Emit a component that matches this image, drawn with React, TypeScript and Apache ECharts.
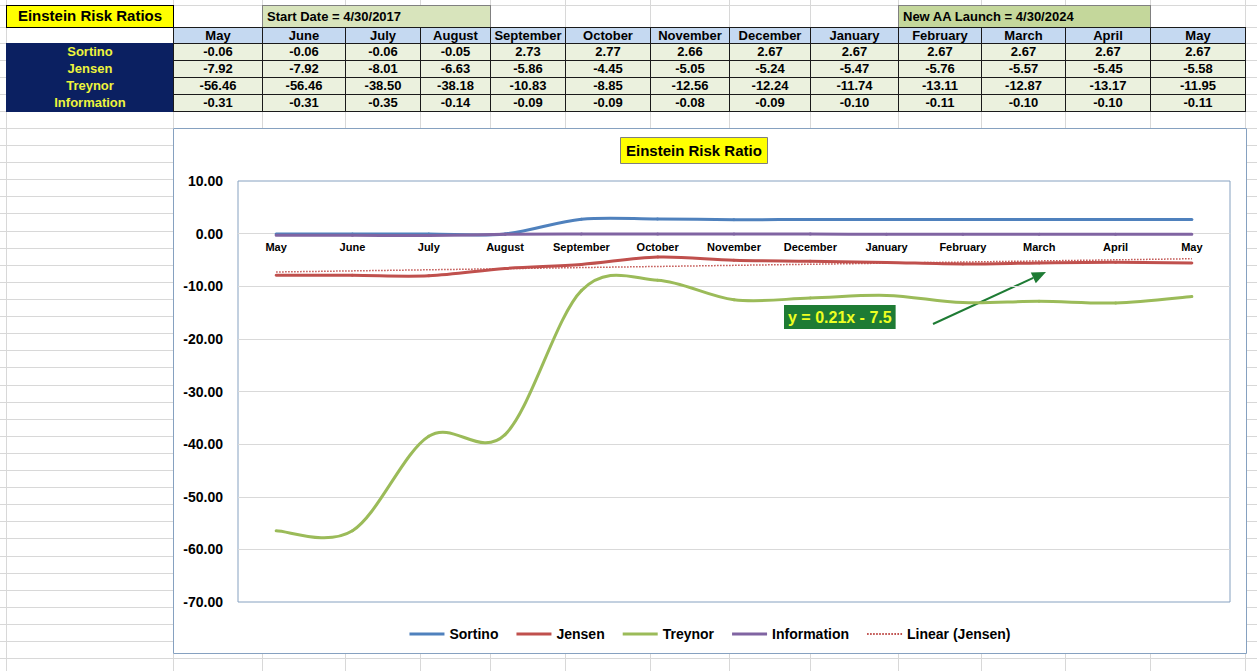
import * as echarts from "echarts";
import { useEffect, useRef } from "react";

// values copied from the sheet (one column per month)
const months = [
  "May", "June", "July", "August", "September", "October", "November",
  "December", "January", "February", "March", "April", "May",
];
const sortino = [-0.06, -0.06, -0.06, -0.05, 2.73, 2.77, 2.66, 2.67, 2.67, 2.67, 2.67, 2.67, 2.67];
const jensen = [-7.92, -7.92, -8.01, -6.63, -5.86, -4.45, -5.05, -5.24, -5.47, -5.76, -5.57, -5.45, -5.58];
const treynor = [-56.46, -56.46, -38.5, -38.18, -10.83, -8.85, -12.56, -12.24, -11.74, -13.11, -12.87, -13.17, -11.95];
const information = [-0.31, -0.31, -0.35, -0.14, -0.09, -0.09, -0.08, -0.09, -0.1, -0.11, -0.1, -0.1, -0.11];
// linear trend of Jensen, read at the first and last month
const jensenTrend = [-7.29, null, null, null, null, null, null, null, null, null, null, null, -4.77];

const ratioNames = ["Sortino", "Jensen", "Treynor", "Information"];
const ratioRows = [sortino, jensen, treynor, information];
const ratioColors = ["#4f81bd", "#c0504d", "#9bbb59", "#8064a2"];
const trendName = "Linear (Jensen)";
const trendColor = "#c0504d";
const trendLabel = "y = 0.21x - 7.5";

const sheetTitle = "Einstein Risk Ratios";
const chartTitle = "Einstein Risk Ratio";
const startNote = "Start Date = 4/30/2017";
const launchNote = "New AA Launch = 4/30/2024";

// spreadsheet geometry
const colEdges = [6, 173, 262, 345, 420, 490, 565, 650, 729, 810, 898, 981, 1065, 1150, 1245];
const rowEdges = [5, 27, 43, 60, 77, 94, 111];
const CHART_X = 173;
const CHART_Y = 128;
const CHART_W = 1074;
const CHART_H = 526;

const sans = "'Liberation Sans', Arial, sans-serif";
const cellFont = `bold 13px ${sans}`;

function box(left: number, top: number, right: number, bottom: number) {
  return {
    position: "absolute" as const,
    left,
    top,
    width: right - left + 1,
    height: bottom - top + 1,
    boxSizing: "border-box" as const,
    whiteSpace: "nowrap" as const,
  };
}

function Sheet() {
  const hLines: number[] = [...rowEdges];
  for (let y = 128; y < 671; y += 17.1) hLines.push(Math.round(y));

  const cells: JSX.Element[] = [];
  months.forEach((m, i) => {
    cells.push(
      <div
        key={"h" + i}
        style={{
          ...box(colEdges[i + 1], rowEdges[1], colEdges[i + 2], rowEdges[2]),
          background: "#c5d9f1",
          border: "1px solid #1a1a1a",
          font: cellFont,
          textAlign: "center",
          lineHeight: "15px",
        }}
      >
        {m}
      </div>,
    );
  });
  ratioRows.forEach((row, r) => {
    const top = rowEdges[r + 2];
    const bottom = rowEdges[r + 3];
    cells.push(
      <div
        key={"l" + r}
        style={{
          ...box(colEdges[0], top, colEdges[1], bottom),
          background: "#0b2061",
          color: "#eef43c",
          font: cellFont,
          textAlign: "center",
          lineHeight: "17px",
        }}
      >
        {ratioNames[r]}
      </div>,
    );
    row.forEach((v, i) => {
      cells.push(
        <div
          key={"c" + r + "-" + i}
          style={{
            ...box(colEdges[i + 1], top, colEdges[i + 2], bottom),
            background: "#ebf1de",
            border: "1px solid #1a1a1a",
            font: cellFont,
            textAlign: "center",
            lineHeight: "16px",
          }}
        >
          {v.toFixed(2)}
        </div>,
      );
    });
  });

  return (
    <>
      {colEdges.map((x) => (
        <div
          key={"vx" + x}
          style={{ position: "absolute", left: x, top: 0, width: 1, height: 671, background: "#d8d8d8" }}
        />
      ))}
      {hLines.map((y) => (
        <div
          key={"hy" + y}
          style={{ position: "absolute", left: 0, top: y, width: 1257, height: 1, background: "#d8d8d8" }}
        />
      ))}
      <div
        style={{
          ...box(colEdges[0], rowEdges[0], colEdges[1], rowEdges[1]),
          background: "#ffff00",
          border: "1px solid #000",
          font: `bold 15px ${sans}`,
          textAlign: "center",
          lineHeight: "20px",
        }}
      >
        {sheetTitle}
      </div>
      <div
        style={{
          ...box(colEdges[2], rowEdges[0], colEdges[5], rowEdges[1]),
          background: "#d8e4bc",
          border: "1px solid #808080",
          font: cellFont,
          paddingLeft: 4,
          lineHeight: "21px",
        }}
      >
        {startNote}
      </div>
      <div
        style={{
          ...box(colEdges[10], rowEdges[0], colEdges[13], rowEdges[1]),
          background: "#c4d79b",
          border: "1px solid #808080",
          font: cellFont,
          paddingLeft: 4,
          lineHeight: "21px",
        }}
      >
        {launchNote}
      </div>
      {cells}
    </>
  );
}

// Excel-like smoothed line: a cubic bezier per segment through the data points
function splineSeries(name: string, values: number[], color: string): echarts.CustomSeriesOption {
  const n = values.length;
  return {
    name,
    type: "custom",
    data: values.map((v, i) => [i, v]),
    encode: { x: 0, y: 1 },
    itemStyle: { color },
    renderItem: (params: any, api: any) => {
      const i = params.dataIndex;
      if (i >= n - 1) return null;
      const p = (k: number) => {
        const j = Math.max(0, Math.min(n - 1, k));
        return api.coord([j, values[j]]);
      };
      const p0 = p(i - 1);
      const p1 = p(i);
      const p2 = p(i + 1);
      const p3 = p(i + 2);
      return {
        type: "bezierCurve",
        shape: {
          x1: p1[0],
          y1: p1[1],
          x2: p2[0],
          y2: p2[1],
          cpx1: p1[0] + (p2[0] - p0[0]) / 6,
          cpy1: p1[1] + (p2[1] - p0[1]) / 6,
          cpx2: p2[0] - (p3[0] - p1[0]) / 6,
          cpy2: p2[1] - (p3[1] - p1[1]) / 6,
        },
        style: { stroke: color, lineWidth: 3, fill: "none", lineCap: "round" },
      };
    },
  };
}

function dottedIcon() {
  let d = "path://";
  for (let k = 0; k < 12; k++) d += `M${k * 3},0h1.6v2h-1.6z`;
  return d;
}

function RiskChart() {
  const chartRef = useRef<HTMLDivElement | null>(null);

  useEffect(() => {
    if (!chartRef.current) return;
    const chart = echarts.init(chartRef.current, undefined, { renderer: "svg" });

    // annotation arrow pointing at the trend line
    const from = [760, 196];
    const tip = [873, 144];
    const dx = tip[0] - from[0];
    const dy = tip[1] - from[1];
    const len = Math.hypot(dx, dy);
    const ux = dx / len;
    const uy = dy / len;
    const headLen = 14;
    const headHalf = 6;
    const bx = tip[0] - ux * headLen;
    const by = tip[1] - uy * headLen;

    const series: echarts.SeriesOption[] = ratioNames.map((name, i) =>
      splineSeries(name, ratioRows[i], ratioColors[i]),
    );
    series.push({
      name: trendName,
      type: "line",
      data: jensenTrend,
      connectNulls: true,
      symbol: "none",
      showSymbol: false,
      lineStyle: { color: trendColor, width: 1.5, type: "dotted" },
      itemStyle: { color: trendColor },
    });

    const option: echarts.EChartsOption = {
      animation: false,
      textStyle: { fontFamily: sans },
      title: {
        text: chartTitle,
        left: 447,
        top: 9,
        padding: [5, 6, 5, 6],
        backgroundColor: "#ffff00",
        borderColor: "#7f7f7f",
        borderWidth: 1,
        textStyle: { fontSize: 15, fontWeight: "bold", color: "#000", lineHeight: 17 },
      },
      legend: {
        top: 494,
        left: "center",
        itemWidth: 35,
        itemHeight: 3,
        itemGap: 18,
        textStyle: { fontSize: 14, fontWeight: "bold", color: "#000" },
        data: [
          ...ratioNames.map((name) => ({ name, icon: "rect" })),
          { name: trendName, icon: dottedIcon() },
        ],
      },
      grid: {
        left: 65,
        right: 17,
        top: 53,
        bottom: 52,
        show: true,
        borderColor: "#86a1c0",
        borderWidth: 1,
      },
      xAxis: {
        type: "category",
        data: months,
        boundaryGap: true,
        offset: 0,
        axisLine: { onZero: false, lineStyle: { color: "#d9d9d9" } },
        axisTick: { show: false },
        axisLabel: { interval: 0, fontSize: 11, fontWeight: "bold", color: "#000", margin: 8 },
      },
      yAxis: {
        type: "value",
        min: -70,
        max: 10,
        interval: 10,
        axisLine: { show: false },
        axisTick: { show: false },
        axisLabel: {
          formatter: (v: number) => v.toFixed(2),
          fontSize: 14,
          fontWeight: "bold",
          color: "#000",
          margin: 15,
        },
        splitLine: {
          lineStyle: { color: "#d9d9d9" },
          showMinLine: false,
          showMaxLine: false,
        },
      },
      graphic: [
        {
          type: "rect",
          silent: true,
          shape: { x: 0.5, y: 0.5, width: CHART_W - 1, height: CHART_H - 1 },
          style: { fill: "none", stroke: "#86a1c0", lineWidth: 1 },
        },
        {
          type: "text",
          x: 611,
          y: 177,
          style: {
            text: trendLabel,
            fill: "#eeff22",
            font: `bold 16px ${sans}`,
            backgroundColor: "#1e7b34",
            padding: [4, 4, 4, 4],
          },
        },
        {
          type: "line",
          shape: { x1: from[0], y1: from[1], x2: bx, y2: by },
          style: { stroke: "#1e7b34", lineWidth: 2 },
        },
        {
          type: "polygon",
          shape: {
            points: [
              [tip[0], tip[1]],
              [bx + uy * headHalf, by - ux * headHalf],
              [bx - uy * headHalf, by + ux * headHalf],
            ],
          },
          style: { fill: "#1e7b34" },
        },
      ],
      series,
    };

    chart.setOption(option);

    // category labels sit just under the zero line, as in the sheet
    const zeroY = chart.convertToPixel({ yAxisIndex: 0 }, 0) as number;
    const minY = chart.convertToPixel({ yAxisIndex: 0 }, -70) as number;
    chart.setOption({ xAxis: { offset: zeroY - minY } });

    return () => {
      chart.dispose();
    };
  }, []);

  return (
    <div
      ref={chartRef}
      style={{
        position: "absolute",
        left: CHART_X,
        top: CHART_Y,
        width: CHART_W,
        height: CHART_H,
        background: "#fff",
      }}
    />
  );
}

export default function App() {
  return (
    <div
      style={{
        position: "fixed",
        left: 0,
        top: 0,
        width: 1257,
        height: 671,
        overflow: "hidden",
        background: "#fff",
        fontFamily: sans,
        color: "#000",
      }}
    >
      <Sheet />
      <RiskChart />
    </div>
  );
}
